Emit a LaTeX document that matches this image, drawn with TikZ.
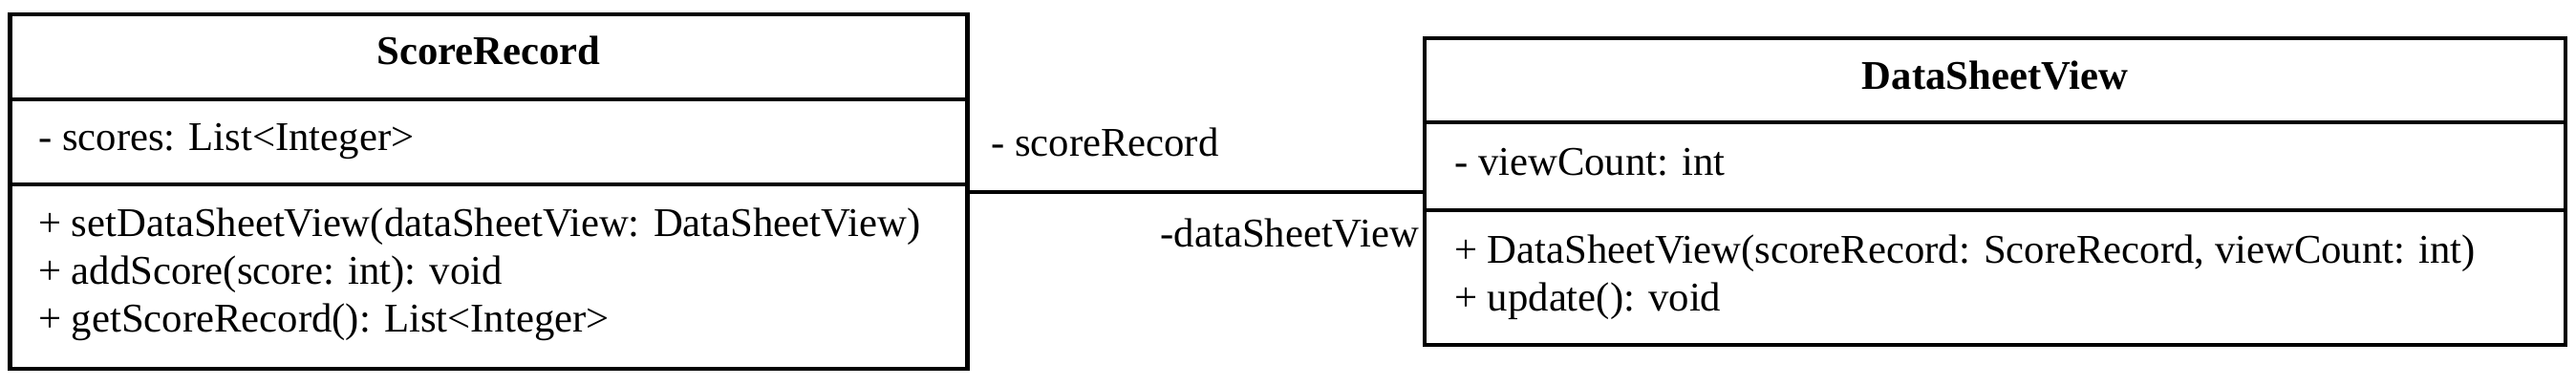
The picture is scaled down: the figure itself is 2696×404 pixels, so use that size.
\documentclass[tikz,border=0pt]{standalone}
\usepackage{fontspec}
\setmainfont{Liberation Serif}
\begin{document}
\begin{tikzpicture}[x=1pt,y=-1pt,
  box/.style={draw,line width=4.5pt,inner sep=0pt},
  divider/.style={line width=4.5pt},
  conn/.style={line width=4.5pt},
  txt/.style={anchor=base west,inner sep=0pt,font=\fontsize{42.7}{50}\selectfont},
  ttl/.style={anchor=base,inner sep=0pt,font=\fontsize{42.7}{50}\selectfont\bfseries},
  lbl/.style={inner sep=0pt,font=\fontsize{42.7}{50}\selectfont}]
\useasboundingbox (0,0) rectangle (2696,404);
% ScoreRecord
\node[box,minimum width=1002pt,minimum height=371pt] (sr) at (511.5,200.5) {};
\draw[divider] (sr.west |- 0,104) coordinate (sra) -- (sr.east |- 0,104) coordinate (srb);
\draw[divider] (sr.west |- 0,193) coordinate (src) -- (sr.east |- 0,193) coordinate (srd);
\node[ttl] (srt) at (511.5,68) {ScoreRecord};
\node[txt] (sr1) at (40,157) {- scores: List<Integer>};
\node[txt] (sr2) at (40,247) {+ setDataSheetView(dataSheetView: DataSheetView)};
\node[txt] (sr3) at (40,297) {+ addScore(score: int): void};
\node[txt] (sr4) at (40,347) {+ getScoreRecord(): List<Integer>};
% DataSheetView
\node[box,minimum width=1194pt,minimum height=321pt] (dv) at (2088,200.5) {};
\draw[divider] (dv.west |- 0,128) coordinate (dva) -- (dv.east |- 0,128) coordinate (dvb);
\draw[divider] (dv.west |- 0,220) coordinate (dvc) -- (dv.east |- 0,220) coordinate (dvd);
\node[ttl] (dvt) at (2088,93) {DataSheetView};
\node[txt] (dv1) at (1522,183) {- viewCount: int};
\node[txt] (dv2) at (1522,275) {+ DataSheetView(scoreRecord: ScoreRecord, viewCount: int)};
\node[txt] (dv3) at (1522,325) {+ update(): void};
% association
\draw[conn] (sr.east |- 0,201) -- (dv.west |- 0,201);
\node[lbl,anchor=base west] (l1) at (1037,163) {- scoreRecord};
\node[lbl,anchor=base east] (l2) at (1485,258) {-dataSheetView};
\end{tikzpicture}
\end{document}
